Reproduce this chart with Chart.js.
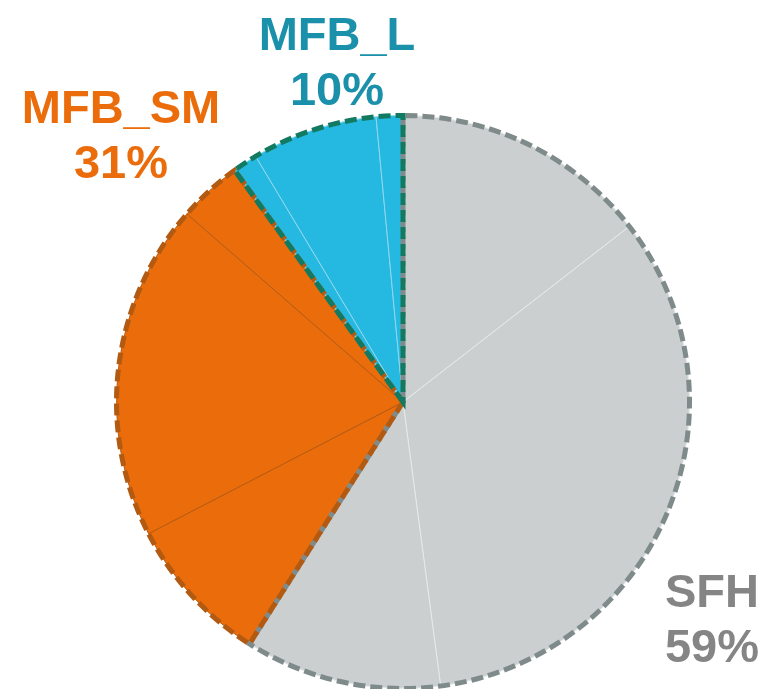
<!DOCTYPE html>
<html>
<head>
<meta charset="utf-8">
<script src="https://cdn.jsdelivr.net/npm/chart.js@4.4.0/dist/chart.umd.min.js"></script>
<style>
  html, body { margin: 0; padding: 0; background: #fff; }
  #wrap { width: 773px; height: 689px; }
</style>
</head>
<body>
<div id="wrap"><canvas id="chart"></canvas></div>
<script>
// groups (clockwise from 12 o'clock)
const groups = ['SFH', 'MFB_SM', 'MFB_L']
// sub-slices per group, in percent of the total
const sfhValues = [14.5, 33.4, 11.1]
const mfbSmValues = [8.4, 19.0, 3.6]
const mfbLValues = [1.4, 7.1, 1.5]

const groupValues = [sfhValues, mfbSmValues, mfbLValues]
const fillColors = ['#cbcfd0', '#ea6c0a', '#25b9e1']
const dividerColors = ['#e6e9e9', '#b65a12', '#8fd6ec']
const dashColors = ['#7f8b8a', '#b35a12', '#137a62']
const textColors = ['#858585', '#ea6c0a', '#1b90ab']
// label anchor (center x, first baseline y)
const labelPos = [[712, 607], [121, 123], [337, 50]]

const values = []
const labels = []
const bg = []
const borders = []
const groupOf = []
groupValues.forEach((vals, g) => {
    vals.forEach((v, i) => {
        values.push(v)
        labels.push(groups[g] + ' ' + (i + 1))
        bg.push(fillColors[g])
        borders.push(dividerColors[g])
        groupOf.push(g)
    })
})

// dashed outline around each group + group labels
const groupOutline = {
    id: 'groupOutline',
    afterDatasetsDraw(chart) {
        const ctx = chart.ctx
        const arcs = chart.getDatasetMeta(0).data
        groups.forEach((name, g) => {
            const idx = groupOf.map((x, i) => x === g ? i : -1).filter(i => i >= 0)
            const first = arcs[idx[0]]
            const last = arcs[idx[idx.length - 1]]
            const { x, y, outerRadius } = first.getProps(['x', 'y', 'outerRadius'], true)
            const start = first.getProps(['startAngle'], true).startAngle
            const end = last.getProps(['endAngle'], true).endAngle
            ctx.save()
            ctx.beginPath()
            ctx.moveTo(x, y)
            ctx.arc(x, y, outerRadius, start, end)
            ctx.closePath()
            ctx.lineWidth = 5
            ctx.setLineDash([12, 5])
            ctx.lineJoin = 'miter'
            ctx.strokeStyle = dashColors[g]
            ctx.stroke()
            ctx.restore()
        })
        // labels
        ctx.save()
        ctx.font = 'bold 47px "Liberation Sans", Arial, sans-serif'
        ctx.textAlign = 'center'
        ctx.textBaseline = 'alphabetic'
        groups.forEach((name, g) => {
            const total = groupValues[g].reduce((a, b) => a + b, 0)
            const [lx, ly] = labelPos[g]
            ctx.fillStyle = textColors[g]
            ctx.fillText(name, lx, ly)
            ctx.fillText(Math.round(total) + '%', lx, ly + 55)
        })
        ctx.restore()
    }
}

new Chart(document.getElementById('chart'), {
    type: 'pie',
    data: {
        labels: labels,
        datasets: [{
            data: values,
            backgroundColor: bg,
            borderColor: borders,
            borderWidth: 1,
            hoverBorderWidth: 1,
            hoverOffset: 0,
        }]
    },
    options: {
        responsive: true,
        maintainAspectRatio: false,
        animation: false,
        layout: {
            padding: { top: 115, bottom: 0, left: 116, right: 83 }
        },
        plugins: {
            legend: { display: false },
            tooltip: { enabled: false },
        },
    },
    plugins: [groupOutline]
})
</script>
</body>
</html>
